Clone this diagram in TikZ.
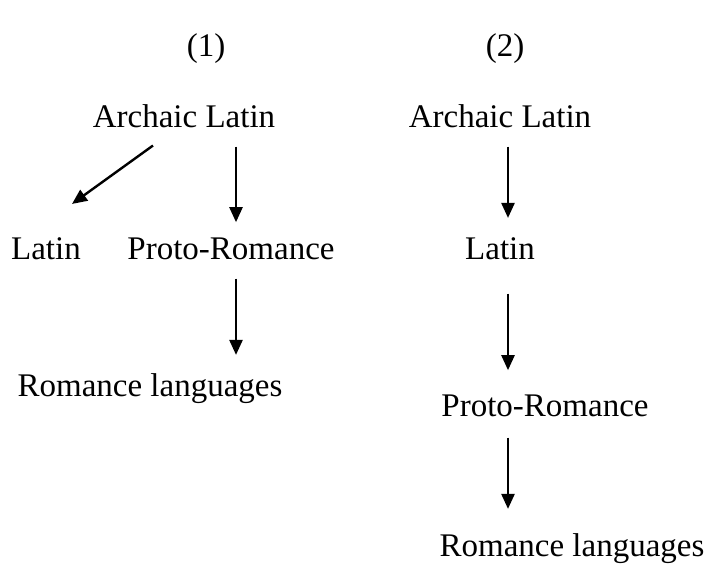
\documentclass[tikz,border=0pt]{standalone}
\usepackage{fontspec}
\setmainfont{Liberation Serif}
\usetikzlibrary{arrows.meta}
\tikzset{
  lang/.style={inner sep=0pt, anchor=base, font=\fontsize{33}{40}\selectfont},
  descent/.style={-{Triangle[length=15pt,width=13pt]}, line width=2.4pt}
}
\begin{document}
\begin{tikzpicture}[x=1pt,y=-1pt]
  \useasboundingbox (0,0) rectangle (711,567);
  % Headings
  \node[lang] (h1) at (206,57) {(1)};
  \node[lang] (h2) at (505,57) {(2)};
  % Tree (1)
  \node[lang] (al1) at (184,127) {Archaic Latin};
  \node[lang] (la1) at (46,259) {Latin};
  \node[lang] (pr1) at (231,259) {Proto-Romance};
  \node[lang] (rl1) at (150,396) {Romance languages};
  % Tree (2)
  \node[lang] (al2) at (500,127) {Archaic Latin};
  \node[lang] (la2) at (500,259) {Latin};
  \node[lang] (pr2) at (545,416) {Proto-Romance};
  \node[lang] (rl2) at (572,556) {Romance languages};
  % Arrows (1)
  \draw[descent] ([xshift=-31pt,yshift=-18pt]al1.south) -- ([xshift=26pt,yshift=33pt]la1.north);
  \draw[descent] ([xshift=5pt,yshift=-19pt]pr1.north |- al1.south) -- ([xshift=5pt,yshift=15pt]pr1.north);
  \draw[descent] ([xshift=5pt,yshift=-19pt]pr1.south) -- ([xshift=5pt,yshift=18pt]pr1.south |- rl1.north);
  % Arrows (2)
  \draw[descent] ([xshift=8pt,yshift=-19pt]al2.south) -- ([xshift=8pt,yshift=19pt]la2.north);
  \draw[descent] ([xshift=8pt,yshift=-34pt]la2.south) -- ([xshift=8pt,yshift=24pt]la2.south |- pr2.north);
  \draw[descent] ([xshift=8pt,yshift=-21pt]la2.south |- pr2.south) -- ([xshift=8pt,yshift=24pt]la2.south |- rl2.north);
\end{tikzpicture}
\end{document}
